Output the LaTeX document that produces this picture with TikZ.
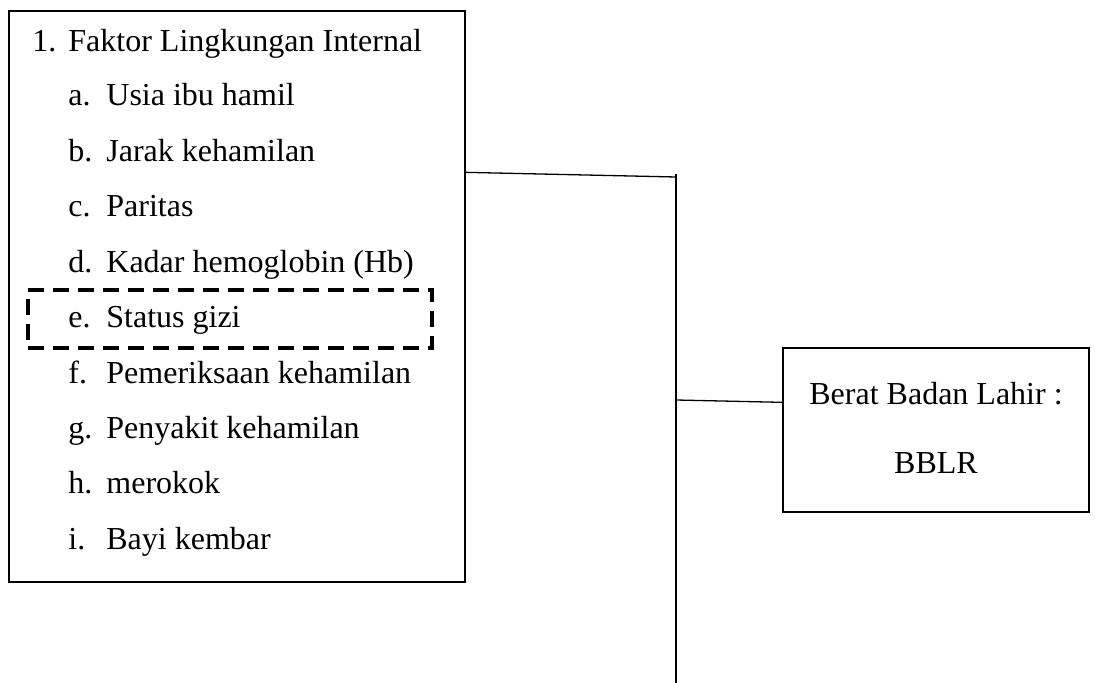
\documentclass[tikz,border=0pt]{standalone}
\usepackage{fontspec}
\setmainfont{Liberation Serif}
\usepackage{tikz}
\usetikzlibrary{calc}

\begin{document}
\begin{tikzpicture}[x=0.5pt,y=-0.5pt,
		box/.style={draw,line width=0.65pt,inner sep=0pt},
		txt/.style={anchor=base west,inner sep=0pt,font=\fontsize{16}{19}\selectfont},
		dashedbox/.style={draw,line width=1.7pt,dash pattern=on 8pt off 4.5pt,inner sep=0pt},
		line/.style={line width=0.65pt},
		]
		% batas gambar
		\useasboundingbox (0,0) rectangle (1095,683);
		
		% kotak faktor lingkungan internal
		\node[box,minimum width=228pt,minimum height=285.5pt] (faktor) at (237,296.5) {};
		\node[txt] (nomor) at (32,52) {1.};
		\node[txt] (judul) at (68,52) {Faktor Lingkungan Internal};
		\foreach \h/\t [count=\i from 0] in {a/Usia ibu hamil,b/Jarak kehamilan,c/Paritas,
			d/Kadar hemoglobin (Hb),e/Status gizi,f/Pemeriksaan kehamilan,
			g/Penyakit kehamilan,h/merokok,i/Bayi kembar}{
			\node[txt] (huruf\h) at (68,{106+55.4*\i}) {\h.};
			\node[txt] (isi\h) at (106,{106+55.4*\i}) {\t};
		}
		
		% status gizi (garis putus)
		\node[dashedbox,minimum width=202pt,minimum height=29pt] (gizi) at (230,319) {};
		
		% kotak BBLR
		\node[box,minimum width=153pt,minimum height=82pt] (bblr) at (936,430) {};
		\node[txt,anchor=base] (berat) at (936,404) {Berat Badan Lahir :};
		\node[txt,anchor=base] (bblrteks) at (936,473) {BBLR};
		
		% garis penghubung
		\path (faktor.north east) ++(0,162) coordinate (kiri);
		\path (bblr.north west) ++(0,55) coordinate (kanan);
		\coordinate (atas) at (676,177);
		\coordinate (puncak) at (676,174);
		\coordinate (tengah) at (676,400);
		\coordinate (bawah) at (676,683);
		\draw[line] (kiri)--(atas);
		\draw[line] (puncak)--(bawah);
		\draw[line] (tengah)--(kanan);
	\end{tikzpicture}
\end{document}
